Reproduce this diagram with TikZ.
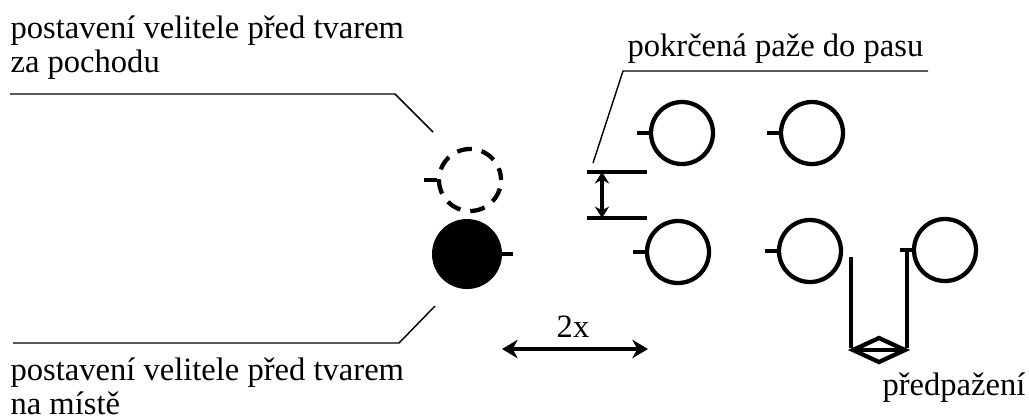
\documentclass[tikz,border=0pt]{standalone}
\usepackage{fontspec}
\setmainfont{Liberation Serif}
\usepackage{tikz}
\usetikzlibrary{arrows.meta}

\tikzset{
  osoba/.style={circle, draw, line width=1.5pt, minimum size=21.7pt, inner sep=0pt},
  ruka/.style={line width=1.5pt},
  odkaz/.style={line width=0.5pt},
  popis/.style={anchor=base west, inner sep=0pt, font=\fontsize{11.4}{13}\selectfont},
}

\begin{document}
\begin{tikzpicture}[x=0.35pt, y=-0.35pt]
        \useasboundingbox (0,0) rectangle (1029,417);

        \node [osoba, dash pattern=on 5.2pt off 3.5pt, dash phase=1pt] (vpoch) at (470,180) {}; %za pochodu
        \draw [ruka]  (vpoch.west) -- ++(-13,0);                              %
        \node [osoba, fill, minimum size=23pt] (vmist) at (467,254) {};       %na miste
        \draw [ruka]  (vmist.east) -- ++(11,0);                               %

        \node [osoba] (a1) at (682,133) {};                                   %1. rad
        \node [osoba] (a2) at (812,133) {};                                   %
        \node [osoba] (b1) at (678,252) {};                                   %2. rad
        \node [osoba] (b2) at (810,251) {};                                   %
        \node [osoba] (b3) at (945,250) {};                                   %
        \foreach \n in {a1,a2,b1,b2,b3}
          \draw [ruka] (\n.west) -- ++(-12,0);

        % pokrcena paze
        \coordinate (sh) at (602,172);
        \coordinate (sd) at (602,218);
        \draw [ruka]  (sh) ++(-15,0) -- ++(60,0);                             %
        \draw [ruka]  (sd) ++(-15,0) -- ++(60,0);                             %
        \draw [ruka, {Stealth[length=4pt,width=5pt]}-{Stealth[length=4pt,width=5pt]}] (sh) -- (sd);

        % predpazeni
        \coordinate (pl) at (851,348);
        \coordinate (pp) at (907,348);
        \draw [ruka]  (851,257) -- (pl);                                      %
        \draw [ruka]  (907,250) -- (pp);                                      %
        \draw [ruka, line join=miter] (853,350) -- (879,338) -- (905,350) -- (879,362) -- cycle;
        \draw [ruka]  (853,350) -- (905,350);                                 %

        % 2x
        \coordinate (d1) at (502,349);
        \coordinate (d2) at (648,349);
        \draw [ruka, {Stealth[length=5.5pt,width=6.5pt]}-{Stealth[length=5.5pt,width=6.5pt]}] (d1) -- (d2);
        \node [popis, anchor=base] (dvakrat) at (573,337) {2x};

        % popisky
        \node [popis] (t1) at (10,38)   {postavení velitele před tvarem};
        \node [popis] (t2) at (10,72)   {za pochodu};
        \draw [odkaz] (10,94) -- (395,94) -- (433,132);                      %
        \node [popis] (t3) at (10,380)  {postavení velitele před tvarem};
        \node [popis] (t4) at (10,414)  {na místě};
        \draw [odkaz] (13,343) -- (399,343) -- (435,306);                    %
        \node [popis] (t5) at (627,56)  {pokrčená paže do pasu};
        \draw [odkaz] (593,163) -- (623,71) -- (928,71);                     %
        \node [popis] (t6) at (882,395) {předpažení};
\end{tikzpicture}
\end{document}
